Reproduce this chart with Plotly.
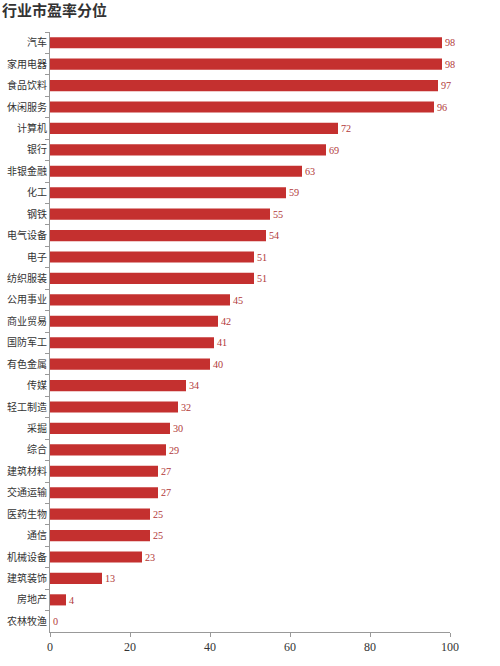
import plotly.graph_objects as go

# 行业市盈率分位 data, top to bottom as shown in the picture
industries = ["汽车", "家用电器", "食品饮料", "休闲服务", "计算机", "银行", "非银金融",
              "化工", "钢铁", "电气设备", "电子", "纺织服装", "公用事业", "商业贸易",
              "国防军工", "有色金属", "传媒", "轻工制造", "采掘", "综合", "建筑材料",
              "交通运输", "医药生物", "通信", "机械设备", "建筑装饰", "房地产", "农林牧渔"]
pe_percentile = [98, 98, 97, 96, 72, 69, 63, 59, 55, 54, 51, 51, 45, 42,
                 41, 40, 34, 32, 30, 29, 27, 27, 25, 25, 23, 13, 4, 0]
x_ticks = [0, 20, 40, 60, 80, 100]

bar_color = "#c4302f"
serif = "Liberation Serif, Noto Sans CJK SC, serif"

fig = go.Figure()
fig.add_trace(go.Bar(
    x=pe_percentile,
    y=industries,
    orientation="h",
    marker=dict(color=bar_color, line=dict(width=0)),
    text=pe_percentile,
    textposition="outside",
    cliponaxis=False,
    textfont=dict(family=serif, size=11, color="#b23a3a"),
))

fig.update_layout(
    width=500,
    height=666,
    margin=dict(l=50, r=50, t=32, b=34, autoexpand=False),
    paper_bgcolor="white",
    plot_bgcolor="white",
    bargap=0.48,
    showlegend=False,
    title=dict(
        text="<b>行业市盈率分位</b>",
        x=0.004, xanchor="left",
        yref="container", y=0.984, yanchor="middle",
        font=dict(family="Noto Sans CJK SC", size=15, color="#333333"),
    ),
    xaxis=dict(
        range=[0, 100],
        tickvals=x_ticks,
        automargin=False,
        showgrid=False,
        zeroline=False,
        showline=True,
        linecolor="#999999",
        linewidth=1,
        ticks="outside",
        ticklen=4,
        tickcolor="#999999",
        tickfont=dict(family=serif, size=12, color="#333333"),
    ),
    yaxis=dict(
        autorange="reversed",
        automargin=False,
        showgrid=False,
        showline=True,
        linecolor="#999999",
        linewidth=1,
        ticks="outside",
        tickson="boundaries",
        ticklen=4,
        tickcolor="#999999",
        tickfont=dict(family=serif, size=10, color="#333333"),
    ),
)

# page body has a default 8px margin, drop it so the figure sits at the corner
fig.write_html("out.html", config={"displayModeBar": False},
               post_script="document.body.style.margin='0px';")
